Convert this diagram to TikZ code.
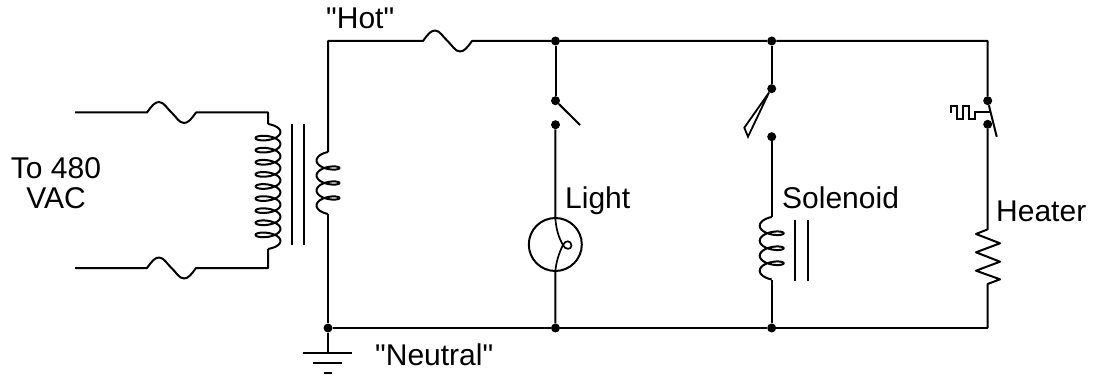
\documentclass[tikz,border=0pt]{standalone}
\usepackage{fontspec}
\setmainfont{Liberation Sans}
\newfontfamily\lblfont{Liberation Sans}
\newcommand{\coilplot}[6]{% cx, ytop, loops, pitch, b, a(signed)
  \draw[wire] plot[smooth,domain={-pi/2}:{2*pi*#3+pi/2},samples={24*#3+13}]
   ({#1+(#6)*cos(\x r)},{#2+#4/4+#5+#4*\x/(2*pi)+#5*sin(\x r)});}
\newcommand{\fusepath}[2]{% x start, y
  .. controls (#1+5,#2-7) and (#1+8,#2-10.5) .. (#1+12,#2-10.5)
  .. controls (#1+17,#2-10.5) and (#1+20,#2-4) .. (#1+24.5,#2)
  .. controls (#1+29,#2+4) and (#1+32,#2+10.5) .. (#1+37,#2+10.5)
  .. controls (#1+41,#2+10.5) and (#1+44,#2+7) .. (#1+49,#2)}
\tikzset{
  wire/.style={line width=2pt,line join=round},
  thinwire/.style={line width=1.7pt,line join=miter},
  dot/.style={circle,fill=black,inner sep=0pt,minimum size=9pt},
  lbl/.style={font=\lblfont\fontsize{30}{30}\selectfont,inner sep=0pt,anchor=base west,text=black},
  lblc/.style={font=\lblfont\fontsize{30}{29.5}\selectfont,inner sep=0pt,align=center,text=black}
}
\begin{document}
\begin{tikzpicture}[x=1pt,y=-1pt]
\useasboundingbox (0,0) rectangle (1094,377);
\fill[white] (0,0) rectangle (1094,377);
% free ends and corners
\coordinate (inT) at (75,112.5);
\coordinate (fTa) at (147,112.5);
\coordinate (fTb) at (196,112.5);
\coordinate (cT) at (268,112.5);
\coordinate (pT) at (268,124);
\coordinate (pB) at (268,249);
\coordinate (cB) at (268,268);
\coordinate (fBb) at (196,268);
\coordinate (fBa) at (147,268);
\coordinate (inB) at (75,268);
\coordinate (sT) at (328,152);
\coordinate (sB) at (328,214);
\coordinate (hL) at (328,41);
\coordinate (fHa) at (423,41);
\coordinate (fHb) at (472,41);
\coordinate (hR) at (987.7,41);
\coordinate (nR) at (987.7,328);
\coordinate (gA) at (328,353);
% junctions
\node[dot] (j1) at (555.5,41) {};
\node[dot] (j2) at (771.7,41) {};
\node[dot] (k0) at (328,328) {};
\node[dot] (k1) at (555.5,328) {};
\node[dot] (k2) at (771.7,328) {};
\node[dot] (s1a) at (555.5,100.7) {};
\node[dot] (s1b) at (555.5,124.7) {};
\node[dot] (s2a) at (771.7,88.7) {};
\node[dot] (s2b) at (771.7,136.7) {};
\node[dot] (s3a) at (987.7,100.7) {};
\node[dot] (s3b) at (987.7,124.3) {};
% primary side
\draw[wire] (inT) -- (fTa) \fusepath{147}{112.5} -- (cT) -- (pT);
\draw[wire] (inB) -- (fBa) \fusepath{147}{268} -- (cB) -- (pB);
\coilplot{268}{124}{9}{12.1}{5}{12.5}
% core
\coordinate (c1a) at (291.7,124); \coordinate (c1b) at (291.7,245);
\coordinate (c2a) at (303.7,124); \coordinate (c2b) at (303.7,245);
\draw[thinwire] (c1a) -- (c1b);
\draw[thinwire] (c2a) -- (c2b);
% secondary side
\draw[wire] (sT) -- (hL) -- (fHa) \fusepath{423}{41} -- (j1) -- (j2) -- (hR) -- (s3a);
\coilplot{328}{152}{3}{15}{4.75}{-11.5}
\draw[wire] (sB) -- (k0) -- (k1) -- (k2) -- (nR);
% ground
\draw[wire] (k0) -- (gA);
\coordinate (g1a) at (303,353); \coordinate (g1b) at (352,353);
\coordinate (g2a) at (313,363); \coordinate (g2b) at (342,363);
\coordinate (g3a) at (324,373); \coordinate (g3b) at (332,373);
\draw[wire] (g1a) -- (g1b);
\draw[wire] (g2a) -- (g2b);
\draw[wire] (g3a) -- (g3b);
% light branch
\draw[wire] (j1) -- (s1a);
\coordinate (b1) at (580,125);
\draw[wire] (s1a) -- (b1);
\node[circle,draw=black,line width=2pt,minimum size=53pt,inner sep=0pt] (lamp) at (555.3,244.5) {};
\draw[wire] (s1b) -- (lamp.north);
\draw[wire] (lamp.south) -- (k1);
\draw[line width=1.7pt] (lamp.north) .. controls (556,230) and (559,238) .. (563,245)
  .. controls (565,240) and (571,240) .. (571.5,245.5)
  .. controls (571.5,250) and (565,250) .. (563,245)
  .. controls (559,253) and (556,262) .. (lamp.south);
% solenoid branch
\draw[wire] (j2) -- (s2a);
\coordinate (t1) at (744.3,127.7); \coordinate (t2) at (748,136.7);
\draw[line width=1.8pt,line join=miter] (s2a) -- (t1) -- (t2) -- cycle;
\coordinate (mT) at (771.7,217); \coordinate (mB) at (771.7,280);
\draw[wire] (s2b) -- (mT);
\coilplot{771.7}{217}{3}{15}{5}{-12}
\draw[wire] (mB) -- (k2);
\coordinate (m1a) at (795,220); \coordinate (m1b) at (795,281);
\coordinate (m2a) at (807.7,220); \coordinate (m2b) at (807.7,281);
\draw[thinwire] (m1a) -- (m1b);
\draw[thinwire] (m2a) -- (m2b);
% heater branch
\coordinate (b3) at (996.7,136.7);
\draw[wire] (s3a) -- (b3);
\coordinate (tE) at (989.7,112);
\draw[thinwire] (950.7,112.7) -- (950.7,106) -- (957.3,106) -- (957.3,118.7) -- (962.7,118.7) -- (962.7,106) -- (969.3,106) -- (969.3,118.7) -- (975,118.7) -- (975,112) -- (tE);
\coordinate (rT) at (987.7,229.3);
\coordinate (rB) at (987.7,284);
\draw[wire] (s3b) -- (rT) -- (976,234) -- (1000,243.3) -- (976,252.3) -- (1000,261.7) -- (976,270.7) -- (1000,279.3) -- (rB) -- (nR);
% labels
\node[lbl] (hot) at (326,28.5) {"Hot"};
\node[lbl] (neu) at (375,365) {"Neutral"};
\node[lblc] (to) at (56,183) {To 480\\VAC};
\node[lbl] (li) at (565,208.5) {Light};
\node[lbl] (so) at (782,208.5) {Solenoid};
\node[lbl] (he) at (996,221) {Heater};
\end{tikzpicture}
\end{document}
